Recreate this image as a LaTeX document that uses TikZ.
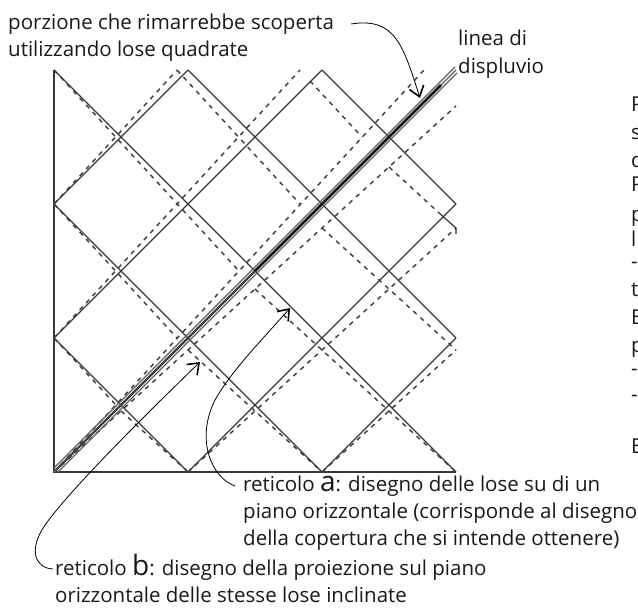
\documentclass[tikz,border=0pt]{standalone}
\usepackage{fontspec}
\setmainfont{Open Sans}
\usetikzlibrary{arrows.meta}
\tikzset{
 sol/.style={draw=black!78,line width=1.15pt},
 dsh/.style={draw=black!75,line width=1.45pt,dash pattern=on 4.5pt off 5pt},
 lab/.style={anchor=base west,inner sep=0pt,font=\fontsize{20.5}{20.5}\selectfont,text=black!90},
 lead/.style={draw=black,line width=0.8pt,-{Straight Barb[length=10pt,width=15pt,line width=1.6pt]}},
}
\newcommand{\biglet}[1]{{\fontsize{28}{28}\selectfont #1}}
\begin{document}
\begin{tikzpicture}[x=1pt,y=-1pt]
\useasboundingbox (0,0) rectangle (638,608);
\clip (0,0) rectangle (638,608);
% outer triangle
\draw[sol,line width=1.4pt] (54,70) -- (54,472) -- (456,472);
% solid grid
\foreach \a/\b/\c/\d in {54/70/456/472,188/70/456/338,322/70/456/204,54/204/322/472,54/338/188/472,
 54/204/188/70,54/338/322/70,188/472/456/204,322/472/456/338}
 \draw[sol] (\a,\b) -- (\c,\d);
% dashed grid, upper
\foreach \a/\b/\c/\d in {54/472/424/70,54/338/300/70,54/204/177/70,
 54/70/239/271,177/70/300/204,310/81/362/137,54/204/177/338,54/338/116/405}
 \draw[dsh] (\a,\b) -- (\c,\d);
% dashed grid, lower
\foreach \a/\b/\c/\d in {54/472/456/106,188/472/456/228,322/472/456/350,
 255/289/456/472,322/228/456/350,389/167/438/212,188/350/322/472,121/411/188/472}
 \draw[dsh] (\a,\b) -- (\c,\d);
\draw[black!85,line width=1.1pt] (438,212)--(456,228)--(456,234);
% ridge
\draw[black!62,line width=1.4pt] (54,472) -- (456,70);
\draw[black!62,line width=1.3pt] (58,472) -- (457,73);
\draw[black!62,line width=1.3pt] (54,468) -- (455,67);
\draw[black!92,line width=2.6pt] (255,271) -- (441,85);
\draw[black!75,line width=2.2pt] (56,470) -- (255,271);
% labels
\node[lab] (t1) at (8,29) {porzione che rimarrebbe scoperta};
\node[lab] (t1b) at (8,56) {utilizzando lose quadrate};
\node[lab] (t2) at (458,45) {linea di};
\node[lab] (t2b) at (458,73) {displuvio};
\node[lab] (ta) at (243,491) {reticolo \biglet{a}: disegno delle lose su di un};
\node[lab] (ta2) at (243,518) {piano orizzontale (corrisponde al disegno};
\node[lab] (ta3) at (243,545) {della copertura che si intende ottenere)};
\node[lab] (tb) at (55,575) {reticolo \biglet{b}: disegno della proiezione sul piano};
\node[lab] (tb2) at (55,602) {orizzontale delle stesse lose inclinate};
% clipped column at the right edge
\foreach \y/\s in {111/P,139/s,167/q,191/P,221/p,246/l,268/-,296/t,324/B,352/p,375/-,401/-,453/B}
 \node[lab] at (631,\y) {\s};
% leaders
\coordinate (p1) at (420,98);
\coordinate (p2) at (290,308);
\coordinate (p3) at (200,362);
\draw[lead] (351,24) .. controls (395,17) and (403,45) .. (p1);
\draw[lead] (ta.base west) ++(-8,-5) .. controls (212,478) and (195,440) .. (215,400) .. controls (232,370) and (262,340) .. (p2);
\draw[lead] (tb.base west) ++(-2,-6) .. controls (35,568) and (28,550) .. (45,525) .. controls (70,490) and (140,420) .. (p3);
\end{tikzpicture}
\end{document}
